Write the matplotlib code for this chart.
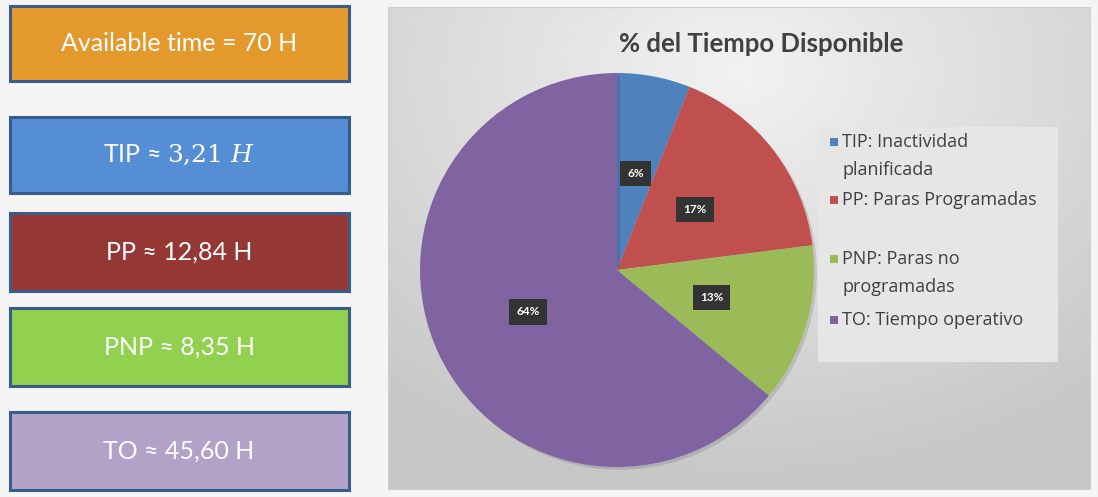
import numpy as np
import matplotlib.pyplot as plt
from matplotlib.patches import Rectangle
import matplotlib.patheffects as pe

plt.rcParams['font.family'] = ['Lato', 'DejaVu Sans']
plt.rcParams['mathtext.fontset'] = 'dejavuserif'

# Data
available_hours = 70
box_names = ["TIP", "PP", "PNP", "TO"]
box_hours = [3.21, 12.84, 8.35, 45.60]
pie_labels = ["TIP: Inactividad\nplanificada", "PP: Paras Programadas",
              "PNP: Paras no\nprogramadas", "TO: Tiempo operativo"]
pie_pct = [6, 17, 13, 64]
pie_colors = ["#4F81BD", "#C0504D", "#9BBB59", "#8064A2"]

W, H = 1098, 497
fig = plt.figure(figsize=(W / 100, H / 100), dpi=100)
fig.patch.set_facecolor("#f5f5f5")


def fx(px):
    return px / W


def fy(py):
    return 1 - py / H


# Left info boxes
box_fill = ["#E3992C", "#558ED5", "#953735", "#92D050", "#B3A2C7"]
box_y = [(6, 81), (117, 193), (213, 291), (308, 386), (412, 490)]
box_text = ["Available time = %d H" % available_hours]
for name, h in zip(box_names, box_hours):
    val = ("%.2f" % h).replace(".", ",")
    if name == "TIP":
        box_text.append(name + " ≈ $" + val.replace(",", "{,}") + r"\ \mathit{H}$")
    else:
        box_text.append(name + " ≈ " + val + " H")

for (y0, y1), c, t in zip(box_y, box_fill, box_text):
    fig.patches.append(Rectangle((fx(10), fy(y1)), fx(349) - fx(10), fy(y0) - fy(y1),
                                 transform=fig.transFigure, facecolor=c,
                                 edgecolor="#385D8A", linewidth=2.2))
    fig.text(fx(179), fy((y0 + y1) / 2), t, ha="center", va="center",
             color="white", fontsize=18)

# Chart panel with grey gradient
bg = fig.add_axes([fx(388), fy(489), fx(1090) - fx(388), fy(7) - fy(489)])
gx, gy = np.meshgrid(np.linspace(-1, 1, 400), np.linspace(-0.2, 1.3, 300))
r = np.clip(np.sqrt((gx * 0.8) ** 2 + gy ** 2) / 1.3, 0, 1)
shade = 0.95 - 0.17 * r
bg.imshow(np.dstack([shade] * 3), aspect="auto", extent=[0, 1, 0, 1], origin="upper")
bg.set_xticks([])
bg.set_yticks([])
for s in bg.spines.values():
    s.set_color("#d0d0d0")

fig.text(fx(761), fy(44), "% del Tiempo Disponible", ha="center", va="center",
         fontsize=18.5, fontweight="bold", color="#404040")

# Pie
ax = fig.add_axes([fx(420), fy(467), fx(814) - fx(420), fy(73) - fy(467)])
wedges, texts, autotexts = ax.pie(
    pie_pct, colors=pie_colors, startangle=90, counterclock=False,
    autopct="%d%%", pctdistance=0.5, radius=1,
    wedgeprops=dict(linewidth=0),
    textprops=dict(color="white", fontsize=8.5, fontweight="bold"))
for w in wedges:
    w.set_path_effects([pe.SimplePatchShadow(offset=(2, -2), alpha=0.15), pe.Normal()])
for t in autotexts:
    t.set_bbox(dict(boxstyle="square,pad=0.6", facecolor="#333333", edgecolor="none"))
ax.set_xlim(-1, 1)
ax.set_ylim(-1, 1)
ax.set_aspect("equal")
ax.axis("off")

# Legend panel
fig.patches.append(Rectangle((fx(818), fy(362)), fx(1058) - fx(818), fy(127) - fy(362),
                             transform=fig.transFigure, facecolor="#e6e6e6",
                             edgecolor="none"))
leg_y = [142, 200, 259, 320]
for lab, c, y in zip(pie_labels, pie_colors, leg_y):
    fig.patches.append(Rectangle((fx(830), fy(y + 4)), fx(8), fy(0) - fy(8),
                                 transform=fig.transFigure, facecolor=c, edgecolor="none"))
    for k, line in enumerate(lab.split("\n")):
        fig.text(fx(842), fy(y + 28 * k), line, ha="left", va="center",
                 fontsize=13, color="#404040", family=["Open Sans", "DejaVu Sans"])

fig.savefig("out.png", dpi=100, facecolor=fig.get_facecolor())
